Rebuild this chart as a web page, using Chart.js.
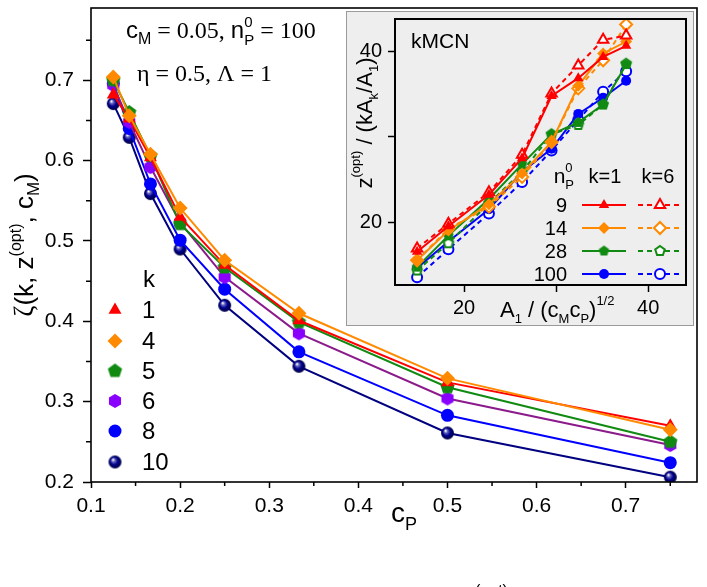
<!DOCTYPE html>
<html>
<head>
<meta charset="utf-8">
<script src="https://cdn.jsdelivr.net/npm/chart.js@4.4.1/dist/chart.umd.min.js"></script>
<style>
  html, body { margin: 0; padding: 0; background: #fff; }
  #wrap { position: relative; width: 707px; height: 587px; overflow: hidden; }
  #main { position: absolute; left: 0; top: 0; }
  #inset { position: absolute; left: 346px; top: 11px; }
</style>
</head>
<body>
<div id="wrap">
  <canvas id="main" width="707" height="587" style="width:707px;height:587px"></canvas>
  <canvas id="inset" width="348" height="315" style="width:348px;height:315px"></canvas>
</div>
<script>
// ---- main plot data: zeta vs c_P ----
const cP = [0.125, 0.1429, 0.1667, 0.2, 0.25, 0.3333, 0.5, 0.75];
const zetaK1  = [0.682, 0.652, 0.604, 0.530, 0.470, 0.401, 0.324, 0.270];
const zetaK4  = [0.704, 0.656, 0.608, 0.541, 0.476, 0.410, 0.329, 0.265];
const zetaK5  = [0.700, 0.660, 0.606, 0.521, 0.467, 0.399, 0.318, 0.250];
const zetaK6  = [0.694, 0.648, 0.592, 0.523, 0.455, 0.385, 0.304, 0.246];
const zetaK8  = [0.696, 0.640, 0.571, 0.501, 0.440, 0.362, 0.283, 0.224];
const zetaK10 = [0.671, 0.629, 0.559, 0.490, 0.420, 0.344, 0.261, 0.206];
const kLabels = ['1', '4', '5', '6', '8', '10'];
const mainXTicks = [0.1, 0.15, 0.2, 0.25, 0.3, 0.35, 0.4, 0.45, 0.5, 0.55, 0.6, 0.65, 0.7, 0.75];
const mainYTicks = [0.2, 0.25, 0.3, 0.35, 0.4, 0.45, 0.5, 0.55, 0.6, 0.65, 0.7, 0.75];

// ---- inset data: z(opt)/(kA_k/A_1) vs A_1/(c_M c_P)^1/2 ----
const insetX  = [14.9, 18.3, 22.7, 26.3, 29.5, 32.4, 35.1, 37.6];
const z9k1    = [16.5, 19.5, 23.2, 27.5, 34.8, 36.9, 39.4, 40.7];
const z9k6    = [16.9, 19.8, 23.5, 27.9, 35.1, 38.4, 41.4, 41.9];
const z14k1   = [15.5, 19.0, 22.1, 25.7, 29.4, 36.0, 39.8, 41.2];
const z14k6   = [15.5, 19.2, 21.8, 25.3, 29.4, 35.7, 39.0, 43.2];
const z28k1   = [14.7, 18.4, 22.7, 26.8, 30.3, 31.7, 33.8, 38.5];
const z28k6   = [14.3, 17.5, 22.2, 25.9, 30.3, 31.4, 33.8, 38.6];
const z100k1  = [14.6, 17.7, 21.5, 25.9, 28.6, 32.7, 34.6, 36.6];
const z100k6  = [13.5, 16.8, 21.0, 24.7, 28.4, 32.0, 35.3, 37.7];
const nLabels = ['9', '14', '28', '100'];
const insetTicks = [20, 30, 40];

const SANS = '"Liberation Sans", Arial, sans-serif';
const SERIF = '"Liberation Serif", "Times New Roman", serif';

const RED = '#ff0000', ORANGE = '#ff8a00', GREEN = '#118a11', VIOLET = '#8a00ff',
      PURPLE = '#8b1a8b', BLUE = '#0000ff', NAVY = '#000080';

// marker images
function polyImage(n, r, fill, stroke, lw) {
  const s = Math.ceil(2 * r + (lw || 0) + 2);
  const c = document.createElement('canvas');
  c.width = c.height = s;
  const g = c.getContext('2d');
  g.beginPath();
  for (let i = 0; i < n; i++) {
    const a = -Math.PI / 2 + i * 2 * Math.PI / n;
    const px = s / 2 + r * Math.cos(a), py = s / 2 + r * Math.sin(a);
    if (i) g.lineTo(px, py); else g.moveTo(px, py);
  }
  g.closePath();
  g.fillStyle = fill;
  g.fill();
  if (stroke) { g.lineWidth = lw; g.strokeStyle = stroke; g.stroke(); }
  return c;
}

function ballImage(r) {
  const s = 2 * r + 2;
  const c = document.createElement('canvas');
  c.width = c.height = s;
  const g = c.getContext('2d');
  const grad = g.createRadialGradient(s * 0.36, s * 0.34, 0.4, s / 2, s / 2, r);
  grad.addColorStop(0, '#ffffff');
  grad.addColorStop(0.22, '#6a6ac0');
  grad.addColorStop(0.55, '#000090');
  grad.addColorStop(1, '#000040');
  g.fillStyle = grad;
  g.beginPath();
  g.arc(s / 2, s / 2, r, 0, Math.PI * 2);
  g.fill();
  return c;
}

const pentFilled = polyImage(5, 7.5, GREEN);
const hexFilled = polyImage(6, 7, VIOLET);
const ball = ballImage(6.5);
const pentInsetFilled = polyImage(5, 5.5, GREEN);
const pentInsetOpen = polyImage(5, 5, '#ffffff', GREEN, 2);

// text with sub/superscripts: parts = [text, font, dy, keepX]
function richWidth(ctx, parts) {
  let w = 0;
  for (const p of parts) { ctx.font = p[1]; if (!p[3]) w += ctx.measureText(p[0]).width; }
  return w;
}
function drawRich(ctx, parts, x, y) {
  let cx = x;
  for (const p of parts) {
    ctx.font = p[1];
    ctx.fillText(p[0], cx, y + (p[2] || 0));
    if (!p[3]) cx += ctx.measureText(p[0]).width;
  }
}

// no extra room for half tick labels: chart area is placed by the paddings only
function noPad(s) {
  s.paddingTop = 0; s.paddingBottom = 0; s.paddingLeft = 0; s.paddingRight = 0;
}

const mainSeries = [
  { data: zetaK4,  color: ORANGE, line: ORANGE, style: 'rectRot', r: 7.5 },
  { data: zetaK1,  color: RED,    line: RED,    style: 'triangle', r: 7.5 },
  { data: zetaK5,  color: GREEN,  line: GREEN,  style: pentFilled, r: 7 },
  { data: zetaK6,  color: VIOLET, line: PURPLE, style: hexFilled, r: 7 },
  { data: zetaK8,  color: BLUE,   line: BLUE,   style: 'circle', r: 6.5 },
  { data: zetaK10, color: NAVY,   line: NAVY,   style: ball, r: 6.5 }
];
const legendOrder = [1, 0, 2, 3, 4, 5]; // k = 1, 4, 5, 6, 8, 10

function isMajor(v, step) {
  return Math.abs(Math.round(v / step) * step - v) < 1e-6;
}

const mainDecor = {
  id: 'mainDecor',
  afterDraw(chart) {
    const ctx = chart.ctx;
    const a = chart.chartArea;
    const xs = chart.scales.x, ys = chart.scales.y;
    ctx.save();
    // minor ticks
    ctx.strokeStyle = '#000';
    ctx.lineWidth = 1.5;
    ctx.beginPath();
    mainXTicks.forEach(v => {
      if (isMajor(v, 0.1)) return;
      const px = xs.getPixelForValue(v);
      ctx.moveTo(px, a.bottom); ctx.lineTo(px, a.bottom + 4);
    });
    mainYTicks.forEach(v => {
      if (isMajor(v, 0.1)) return;
      const py = ys.getPixelForValue(v);
      ctx.moveTo(a.left, py); ctx.lineTo(a.left - 5, py);
    });
    ctx.stroke();
    // frame
    ctx.lineWidth = 1.6;
    ctx.strokeRect(a.left, a.top, a.right - a.left, a.bottom - a.top);

    ctx.fillStyle = '#000';
    ctx.textBaseline = 'alphabetic';
    // annotations
    drawRich(ctx, [
      ['c', '24px ' + SANS], ['M', '16px ' + SANS, 6],
      [' = 0.05, ', '24px ' + SERIF],
      ['n', '24px ' + SANS], ['0', '15px ' + SANS, -11, true], ['P', '15px ' + SANS, 7],
      [' = 100', '24px ' + SERIF]
    ], 126, 38);
    drawRich(ctx, [['\u03B7 = 0.5, \u039B = 1', '24px ' + SERIF]], 137, 81);

    // legend
    ctx.font = '24px ' + SANS;
    ctx.textBaseline = 'middle';
    ctx.fillText('k', 143, 280);
    const rowY = [310, 341, 371, 401, 431, 462];
    legendOrder.forEach((si, i) => {
      const s = mainSeries[si];
      ctx.fillStyle = s.color;
      ctx.strokeStyle = s.color;
      Chart.helpers.drawPoint(ctx, { pointStyle: s.style, radius: s.r, rotation: 0, borderWidth: 0 }, 115, rowY[i]);
      ctx.fillStyle = '#000';
      ctx.fillText(kLabels[i], 142, rowY[i] + 1);
    });

    // x title
    ctx.textBaseline = 'alphabetic';
    drawRich(ctx, [['c', '28px ' + SANS], ['P', '18px ' + SANS, 8]], 391, 522);

    // y title (rotated)
    ctx.save();
    ctx.translate(33, 245);
    ctx.rotate(-Math.PI / 2);
    const yParts = [
      ['\u03B6', '27px ' + SERIF], ['(k, z', '26px ' + SANS], ['(opt)', '16px ' + SANS, -12],
      [', c', '26px ' + SANS], ['M', '17px ' + SANS, 6], [')', '26px ' + SANS]
    ];
    drawRich(ctx, yParts, -richWidth(ctx, yParts) / 2, 0);
    ctx.restore();

    // clipped text at the bottom edge
    ctx.font = '16px ' + SANS;
    ctx.textBaseline = 'top';
    ctx.fillText('(opt)', 475, 584);
    ctx.restore();
  }
};

new Chart(document.getElementById('main'), {
  type: 'scatter',
  data: {
    datasets: mainSeries.map(s => ({
      data: cP.map((x, i) => ({ x: x, y: s.data[i] })),
      showLine: true,
      borderColor: s.line,
      borderWidth: 2,
      pointStyle: s.style,
      pointRadius: s.r,
      pointBackgroundColor: s.color,
      pointBorderColor: s.color,
      pointBorderWidth: 0,
      tension: 0
    }))
  },
  options: {
    responsive: false,
    animation: false,
    events: [],
    layout: { padding: { left: 0, right: 10, top: 8, bottom: 0 } },
    plugins: { legend: { display: false }, tooltip: { enabled: false } },
    scales: {
      x: {
        type: 'linear', min: 0.1, max: 0.78,
        afterBuildTicks: s => { s.ticks = mainXTicks.map(v => ({ value: v })); },
        afterFit: s => { s.height = 105; noPad(s); },
        grid: {
          drawOnChartArea: false, tickLength: 6, tickWidth: 1.5,
          tickColor: c => isMajor(c.tick.value, 0.1) ? '#000' : 'rgba(0,0,0,0)'
        },
        border: { display: false },
        ticks: {
          color: '#000', padding: 6, maxRotation: 0, autoSkip: false,
          font: { family: SANS, size: 21 },
          callback: v => isMajor(v, 0.1) ? v.toFixed(1) : ''
        }
      },
      y: {
        type: 'linear', min: 0.2, max: 0.79,
        afterBuildTicks: s => { s.ticks = mainYTicks.map(v => ({ value: v })); },
        afterFit: s => { s.width = 91; noPad(s); },
        grid: {
          drawOnChartArea: false, tickLength: 8, tickWidth: 1.5,
          tickColor: c => isMajor(c.tick.value, 0.1) ? '#000' : 'rgba(0,0,0,0)'
        },
        border: { display: false },
        ticks: {
          color: '#000', padding: 9, autoSkip: false,
          font: { family: SANS, size: 21 },
          callback: v => isMajor(v, 0.1) ? v.toFixed(1) : ''
        }
      }
    }
  },
  plugins: [mainDecor]
});

// ---- inset ----
const insetSeries = [
  { data: z9k1,   color: RED,    style: 'triangle', open: false, r: 6 },
  { data: z9k6,   color: RED,    style: 'triangle', open: true,  r: 6 },
  { data: z14k1,  color: ORANGE, style: 'rectRot',  open: false, r: 6 },
  { data: z14k6,  color: ORANGE, style: 'rectRot',  open: true,  r: 6 },
  { data: z28k1,  color: GREEN,  style: pentInsetFilled, open: false, r: 5.5 },
  { data: z28k6,  color: GREEN,  style: pentInsetOpen,   open: true,  r: 5.5 },
  { data: z100k1, color: BLUE,   style: 'circle',   open: false, r: 5 },
  { data: z100k6, color: BLUE,   style: 'circle',   open: true,  r: 5 }
];

const insetDecor = {
  id: 'insetDecor',
  beforeDraw(chart) {
    const ctx = chart.ctx;
    ctx.save();
    ctx.fillStyle = '#eeeeee';
    ctx.fillRect(0, 0, chart.width, chart.height);
    ctx.strokeStyle = '#9a9a9a';
    ctx.lineWidth = 1;
    ctx.strokeRect(0.5, 0.5, chart.width - 1, chart.height - 1);
    ctx.restore();
  },
  afterDraw(chart) {
    const ctx = chart.ctx;
    const a = chart.chartArea;
    ctx.save();
    ctx.strokeStyle = '#000';
    ctx.lineWidth = 2;
    ctx.strokeRect(a.left, a.top, a.right - a.left, a.bottom - a.top);

    ctx.fillStyle = '#000';
    ctx.textBaseline = 'alphabetic';
    ctx.font = '21px ' + SANS;
    ctx.fillText('kMCN', 65, 37);

    // legend table
    const hdr = [['n', '21px ' + SANS], ['0', '13px ' + SANS, -11, true], ['P', '13px ' + SANS, 6]];
    drawRich(ctx, hdr, 228 - richWidth(ctx, hdr), 172);
    ctx.font = '20px ' + SANS;
    ctx.textAlign = 'center';
    ctx.fillText('k=1', 259, 172);
    ctx.fillText('k=6', 312, 172);
    ctx.textAlign = 'right';
    ctx.textBaseline = 'middle';
    const rows = [194, 217, 240, 263];
    nLabels.forEach((lab, i) => {
      const y = rows[i];
      ctx.fillStyle = '#000';
      ctx.fillText(lab, 221, y + 1);
      const f = insetSeries[2 * i], o = insetSeries[2 * i + 1];
      ctx.lineWidth = 2;
      ctx.strokeStyle = f.color;
      ctx.setLineDash([]);
      ctx.beginPath(); ctx.moveTo(236, y); ctx.lineTo(280, y); ctx.stroke();
      ctx.setLineDash([5, 4]);
      ctx.beginPath(); ctx.moveTo(292, y); ctx.lineTo(336, y); ctx.stroke();
      ctx.setLineDash([]);
      ctx.fillStyle = f.color;
      Chart.helpers.drawPoint(ctx, { pointStyle: f.style, radius: f.r, rotation: 0, borderWidth: 0 }, 258, y);
      ctx.fillStyle = '#ffffff';
      ctx.lineWidth = 2;
      Chart.helpers.drawPoint(ctx, { pointStyle: o.style, radius: o.r, rotation: 0, borderWidth: 2 }, 314, y);
    });

    // axis titles
    ctx.fillStyle = '#000';
    ctx.textAlign = 'left';
    ctx.textBaseline = 'alphabetic';
    drawRich(ctx, [
      ['A', '22px ' + SANS], ['1', '13px ' + SANS, 6], [' / (c', '22px ' + SANS], ['M', '13px ' + SANS, 6],
      ['c', '22px ' + SANS], ['P', '13px ' + SANS, 6], [')', '22px ' + SANS], ['1/2', '13px ' + SANS, -12]
    ], 154, 306);

    ctx.translate(26, 112);
    ctx.rotate(-Math.PI / 2);
    const yt = [
      ['z', '22px ' + SANS], ['(opt)', '13px ' + SANS, -12], [' / (kA', '22px ' + SANS],
      ['k', '13px ' + SANS, 6], ['/A', '22px ' + SANS], ['1', '13px ' + SANS, 6], [')', '22px ' + SANS]
    ];
    drawRich(ctx, yt, -richWidth(ctx, yt) / 2, 0);
    ctx.restore();
  }
};

new Chart(document.getElementById('inset'), {
  type: 'scatter',
  data: {
    datasets: insetSeries.map(s => ({
      data: insetX.map((x, i) => ({ x: x, y: s.data[i] })),
      showLine: true,
      borderColor: s.color,
      borderWidth: 2,
      borderDash: s.open ? [5, 4] : [],
      pointStyle: s.style,
      pointRadius: s.r,
      pointBackgroundColor: s.open ? '#ffffff' : s.color,
      pointBorderColor: s.color,
      pointBorderWidth: s.open ? 2 : 0,
      tension: 0
    }))
  },
  options: {
    responsive: false,
    animation: false,
    events: [],
    layout: { padding: { left: 0, right: 8, top: 4, bottom: 0 } },
    plugins: { legend: { display: false }, tooltip: { enabled: false } },
    scales: {
      x: {
        type: 'linear', min: 12.5, max: 44.1,
        afterBuildTicks: s => { s.ticks = insetTicks.map(v => ({ value: v })); },
        afterFit: s => { s.height = 41; noPad(s); },
        grid: { drawOnChartArea: false, tickLength: 7, tickWidth: 1.5, tickColor: '#000' },
        border: { display: false },
        ticks: {
          color: '#000', padding: 4, maxRotation: 0, autoSkip: false,
          font: { family: SANS, size: 20 },
          callback: v => v === 30 ? '' : String(v)
        }
      },
      y: {
        type: 'linear', min: 12.6, max: 43.85,
        afterBuildTicks: s => { s.ticks = insetTicks.map(v => ({ value: v })); },
        afterFit: s => { s.width = 49; noPad(s); },
        grid: { drawOnChartArea: false, tickLength: 7, tickWidth: 1.5, tickColor: '#000' },
        border: { display: false },
        ticks: {
          color: '#000', padding: 6, autoSkip: false,
          font: { family: SANS, size: 20 },
          callback: v => v === 30 ? '' : String(v)
        }
      }
    }
  },
  plugins: [insetDecor]
});
</script>
</body>
</html>
